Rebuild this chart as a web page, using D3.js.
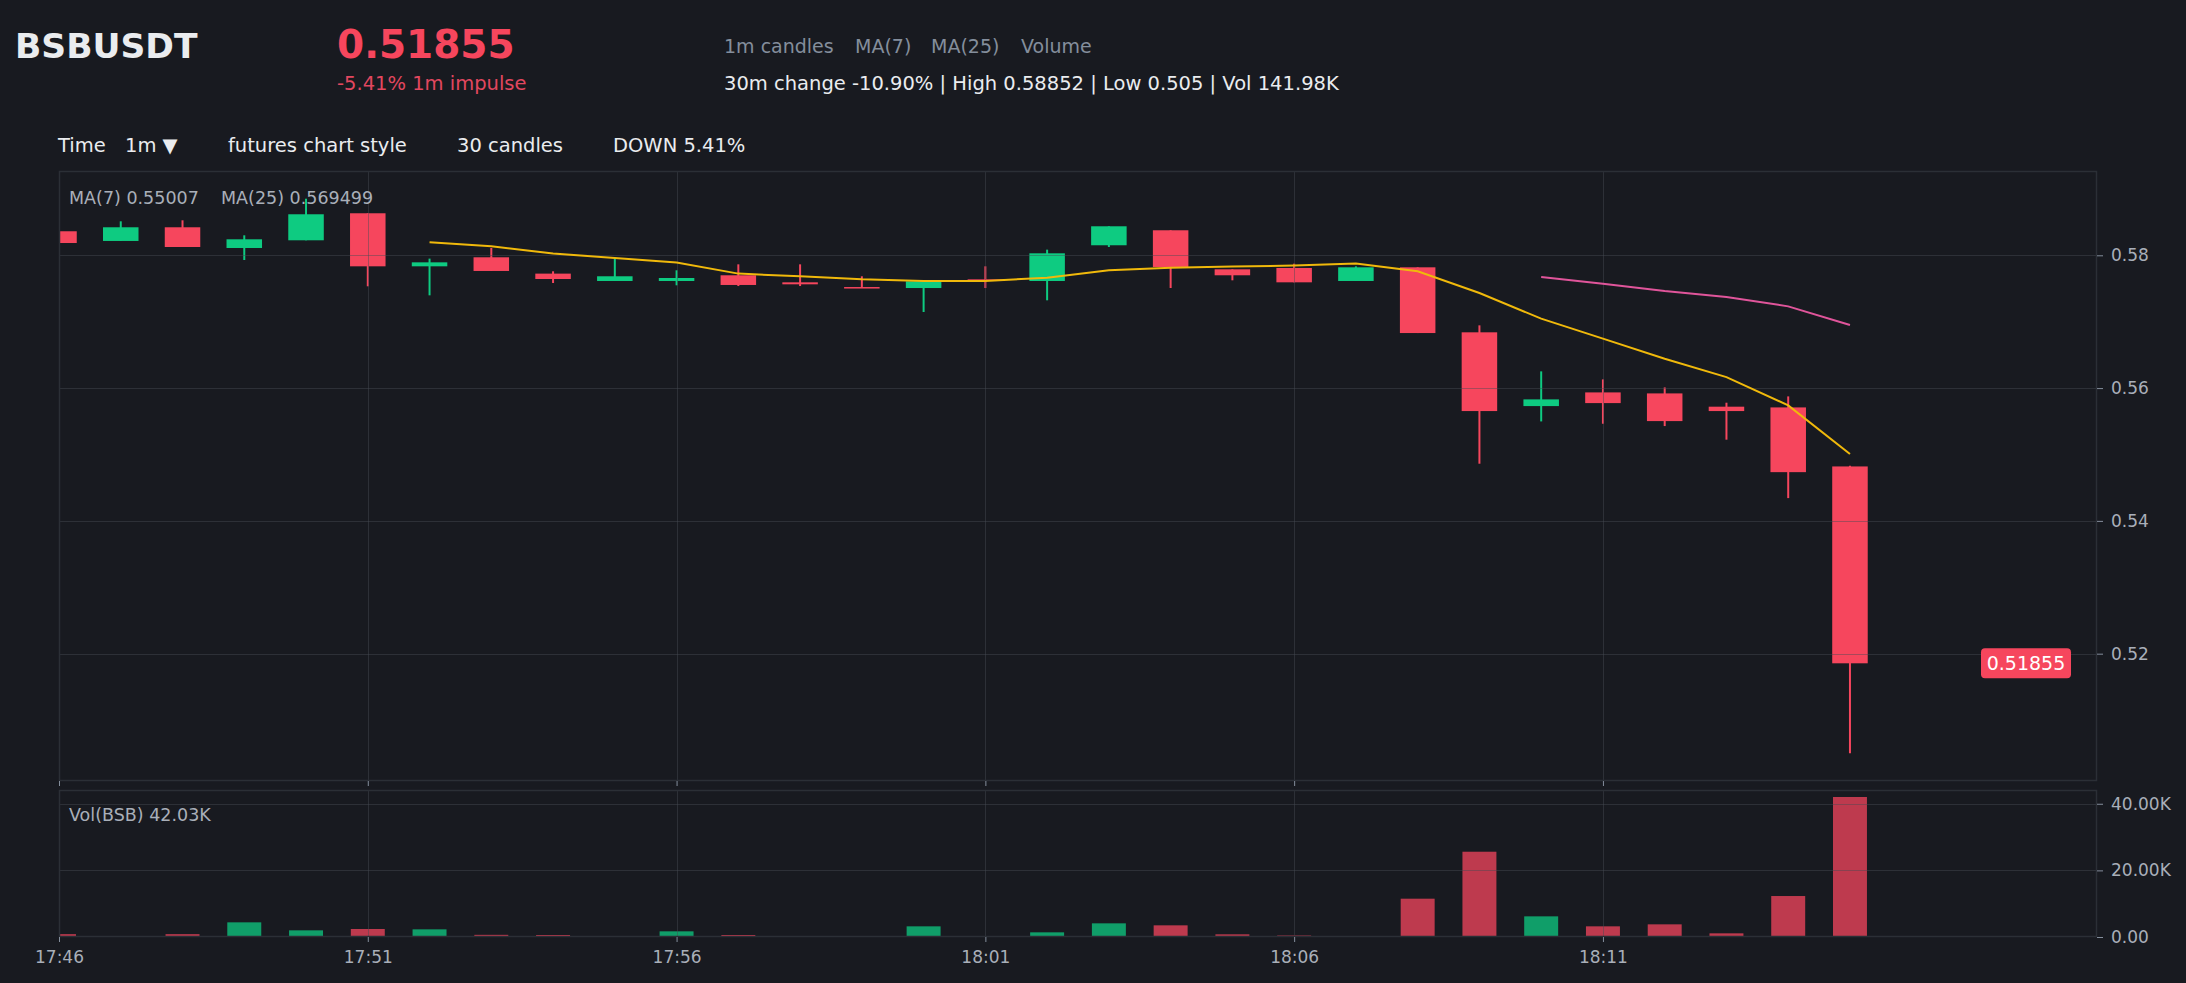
<!DOCTYPE html>
<html>
<head>
<meta charset="utf-8">
<script src="https://cdn.jsdelivr.net/npm/d3@7"></script>
<style>
  html, body { margin: 0; padding: 0; background: #181a20; overflow: hidden; }
  svg { display: block; font-family: "DejaVu Sans", sans-serif; }
</style>
</head>
<body>
<svg id="chart" width="2186" height="983"></svg>
<script>
// ---------------- data ----------------
const times = ["17:46","17:47","17:48","17:49","17:50","17:51","17:52","17:53","17:54","17:55",
               "17:56","17:57","17:58","17:59","18:00","18:01","18:02","18:03","18:04","18:05",
               "18:06","18:07","18:08","18:09","18:10","18:11","18:12","18:13","18:14","18:15"];
const openVals  = [0.58362,0.58216,0.58422,0.58110,0.58226,0.58633,0.57834,0.57970,0.57724,0.57613,
                   0.57613,0.57699,0.57593,0.57522,0.57507,0.57638,0.57613,0.58151,0.58377,0.57789,
                   0.57809,0.57613,0.57819,0.56840,0.55729,0.55935,0.55920,0.55720,0.55709,0.54820];
const highVals  = [0.58375,0.58512,0.58527,0.58301,0.58852,0.58633,0.57950,0.58110,0.57759,0.57950,
                   0.57774,0.57864,0.57864,0.57684,0.57608,0.57834,0.58085,0.58437,0.58377,0.57789,
                   0.57874,0.57834,0.57819,0.56945,0.56252,0.56131,0.56010,0.55780,0.55875,0.54830];
const lowVals   = [0.58185,0.58216,0.58125,0.57929,0.58226,0.57533,0.57397,0.57764,0.57583,0.57613,
                   0.57548,0.57537,0.57537,0.57507,0.57146,0.57507,0.57322,0.58125,0.57507,0.57623,
                   0.57593,0.57613,0.56829,0.54861,0.55498,0.55463,0.55428,0.55223,0.54343,0.50500];
const closeVals = [0.58185,0.58422,0.58125,0.58241,0.58618,0.57834,0.57894,0.57764,0.57643,0.57684,
                   0.57658,0.57553,0.57563,0.57507,0.57608,0.57623,0.58030,0.58437,0.57824,0.57699,
                   0.57593,0.57819,0.56829,0.55654,0.55830,0.55774,0.55503,0.55654,0.54734,0.51855];
const volumeVals = [850,200,850,4400,2000,2400,2300,650,600,100,
                    1700,600,150,150,3200,200,1400,4100,3500,800,
                    450,100,11500,25600,6200,3200,3800,1100,12300,42030];
// moving averages (null where not yet defined)
const ma7Vals = [null,null,null,null,null,null,
                 0.58196,0.58136,0.58026,0.57960,0.57890,0.57724,0.57684,0.57638,0.57613,0.57613,
                 0.57663,0.57774,0.57814,0.57830,0.57845,0.57875,0.57759,0.57432,0.57046,0.56745,
                 0.56443,0.56166,0.55740,0.55007];
const ma25Vals = [null,null,null,null,null,null,null,null,null,null,
                  null,null,null,null,null,null,null,null,null,null,
                  null,null,null,null,0.57673,0.57573,0.57462,0.57372,0.57231,0.569499];
const priceTicks = [0.52, 0.54, 0.56, 0.58];
const priceTickLabels = ["0.52", "0.54", "0.56", "0.58"];
const volTicks = [0, 20000, 40000];
const volTickLabels = ["0.00", "20.00K", "40.00K"];
const timeTicks = ["17:46","17:51","17:56","18:01","18:06","18:11"];
const timeDomain = ["17:46","18:19"];
const priceDomain = [0.500824, 0.592696];
const volMax = 44131;

// ---------------- layout ----------------
const W = 2186, H = 983;
const L = 59, R = 2097;
const pTop = 171, pBot = 781;
const vTop = 790, vBot = 937;
const GREEN = "#0ecb81", RED = "#f6465d", BG = "#181a20";
const GRID = "rgb(70,75,85)", BORDER = "#2b2f36", AXIS_TXT = "#a9afb9";

const parseT = d3.timeParse("%H:%M");
const svg = d3.select("#chart");
svg.append("rect").attr("width", W).attr("height", H).attr("fill", BG);

const x = d3.scaleTime().domain(timeDomain.map(parseT)).range([L, R]);
const y = d3.scaleLinear().domain(priceDomain).range([pBot, pTop]);
const yv = d3.scaleLinear().domain([0, volMax]).range([vBot, vTop]);
const step = x(parseT("17:47")) - x(parseT("17:46"));
const bodyW = step * 0.575;
const volW = step * 0.55;

const candles = times.map((t, i) => ({
  t: parseT(t), o: openVals[i], h: highVals[i], l: lowVals[i], c: closeVals[i], v: volumeVals[i],
  up: closeVals[i] >= openVals[i]
}));

// clip paths
const defs = svg.append("defs");
defs.append("clipPath").attr("id", "clipP").append("rect")
  .attr("x", L).attr("y", pTop).attr("width", R - L).attr("height", pBot - pTop);
defs.append("clipPath").attr("id", "clipV").append("rect")
  .attr("x", L).attr("y", vTop).attr("width", R - L).attr("height", vBot - vTop);

// ---------------- header ----------------
const hdr = svg.append("g");
hdr.append("text").attr("x", 15).attr("y", 58).attr("fill", "#eaecef")
  .attr("font-size", 34.5).attr("font-weight", "bold").text("BSBUSDT");
hdr.append("text").attr("x", 337).attr("y", 58).attr("fill", RED)
  .attr("font-size", 39).attr("font-weight", "bold").text("0.51855");
hdr.append("text").attr("x", 337).attr("y", 90).attr("fill", "#e2475f")
  .attr("font-size", 19.5).text("-5.41% 1m impulse");
[["1m candles", 724], ["MA(7)", 855], ["MA(25)", 931], ["Volume", 1021]].forEach(([s, xx]) => {
  hdr.append("text").attr("x", xx).attr("y", 53).attr("fill", "#848e9c").attr("font-size", 19).text(s);
});
hdr.append("text").attr("x", 724).attr("y", 90).attr("fill", "#eaecef").attr("font-size", 19.5)
  .text("30m change -10.90% | High 0.58852 | Low 0.505 | Vol 141.98K");
[["Time", 58], ["1m \u25BC", 125], ["futures chart style", 228], ["30 candles", 457], ["DOWN 5.41%", 613]]
  .forEach(([s, xx]) => {
    hdr.append("text").attr("x", xx).attr("y", 152).attr("fill", "#eaecef").attr("font-size", 19.5).text(s);
  });

// ---------------- price panel ----------------
const pg = svg.append("g").attr("clip-path", "url(#clipP)");
const cg = pg.selectAll("g.candle").data(candles).enter().append("g");
cg.append("line")
  .attr("x1", d => x(d.t)).attr("x2", d => x(d.t))
  .attr("y1", d => y(d.h)).attr("y2", d => y(d.l))
  .attr("stroke", d => d.up ? GREEN : RED).attr("stroke-width", 2);
cg.append("rect")
  .attr("x", d => x(d.t) - bodyW / 2).attr("width", bodyW)
  .attr("y", d => y(Math.max(d.o, d.c)))
  .attr("height", d => Math.max(1.5, Math.abs(y(d.o) - y(d.c))))
  .attr("fill", d => d.up ? GREEN : RED);

// grid over marks
const timeTickDates = timeTicks.map(parseT);
pg.append("g").selectAll("line").data(priceTicks).enter().append("line")
  .attr("x1", L).attr("x2", R).attr("y1", d => Math.round(y(d)) + 0.5).attr("y2", d => Math.round(y(d)) + 0.5)
  .attr("stroke", GRID).attr("stroke-opacity", 0.45);
pg.append("g").selectAll("line").data(timeTickDates).enter().append("line")
  .attr("y1", pTop).attr("y2", pBot).attr("x1", d => Math.round(x(d)) + 0.5).attr("x2", d => Math.round(x(d)) + 0.5)
  .attr("stroke", GRID).attr("stroke-opacity", 0.45);

// moving averages
const maLine = d3.line().defined(d => d.v != null).x(d => x(d.t)).y(d => y(d.v));
pg.append("path").datum(times.map((t, i) => ({ t: parseT(t), v: ma7Vals[i] })))
  .attr("d", maLine).attr("fill", "none").attr("stroke", "#f0b90b").attr("stroke-width", 2);
pg.append("path").datum(times.map((t, i) => ({ t: parseT(t), v: ma25Vals[i] })))
  .attr("d", maLine).attr("fill", "none").attr("stroke", "#e0559b").attr("stroke-width", 2);

// border
svg.append("rect").attr("x", L + 0.5).attr("y", pTop + 0.5).attr("width", R - L - 1).attr("height", pBot - pTop - 1)
  .attr("fill", "none").attr("stroke", BORDER).attr("stroke-width", 1.5);

// MA labels
svg.append("text").attr("x", 69).attr("y", 204).attr("fill", AXIS_TXT).attr("font-size", 17.5)
  .text("MA(7) " + ma7Vals[ma7Vals.length - 1]);
svg.append("text").attr("x", 221).attr("y", 204).attr("fill", AXIS_TXT).attr("font-size", 17.5)
  .text("MA(25) " + ma25Vals[ma25Vals.length - 1]);

// last price tag
const last = candles[candles.length - 1];
const tag = svg.append("g").attr("transform", `translate(${2026},${y(last.c)})`);
tag.append("rect").attr("x", -45).attr("y", -15).attr("width", 90).attr("height", 30).attr("rx", 4)
  .attr("fill", RED);
tag.append("text").attr("text-anchor", "middle").attr("dy", "0.36em").attr("fill", "#ffffff")
  .attr("font-size", 19).text(d3.format(".5f")(last.c));

// price axis
const yAxis = d3.axisRight(y).tickValues(priceTicks).tickSize(6).tickPadding(8)
  .tickFormat((d, i) => priceTickLabels[i]);
const ya = svg.append("g").attr("transform", `translate(${R},0)`).call(yAxis);
ya.select(".domain").remove();
ya.selectAll("line").attr("stroke", "#848e9c");
ya.selectAll("text").attr("fill", AXIS_TXT).attr("font-size", 17).attr("font-family", "DejaVu Sans");

// ticks under price panel (no labels)
const xAxisTop = d3.axisBottom(x).tickValues(timeTickDates).tickSize(5).tickFormat("");
const xt = svg.append("g").attr("transform", `translate(0,${pBot})`).call(xAxisTop);
xt.select(".domain").remove();
xt.selectAll("line").attr("stroke", "#848e9c");

// ---------------- volume panel ----------------
const vg = svg.append("g").attr("clip-path", "url(#clipV)");
vg.selectAll("rect.vol").data(candles).enter().append("rect")
  .attr("x", d => x(d.t) - volW / 2).attr("width", volW)
  .attr("y", d => yv(d.v)).attr("height", d => vBot - yv(d.v))
  .attr("fill", d => d.up ? GREEN : RED).attr("fill-opacity", 0.75);
vg.append("g").selectAll("line").data(volTicks).enter().append("line")
  .attr("x1", L).attr("x2", R).attr("y1", d => Math.round(yv(d)) + 0.5).attr("y2", d => Math.round(yv(d)) + 0.5)
  .attr("stroke", GRID).attr("stroke-opacity", 0.45);
vg.append("g").selectAll("line").data(timeTickDates).enter().append("line")
  .attr("y1", vTop).attr("y2", vBot).attr("x1", d => Math.round(x(d)) + 0.5).attr("x2", d => Math.round(x(d)) + 0.5)
  .attr("stroke", GRID).attr("stroke-opacity", 0.45);
svg.append("rect").attr("x", L + 0.5).attr("y", vTop + 0.5).attr("width", R - L - 1).attr("height", vBot - vTop - 1)
  .attr("fill", "none").attr("stroke", BORDER).attr("stroke-width", 1.5);

svg.append("text").attr("x", 69).attr("y", 821).attr("fill", AXIS_TXT).attr("font-size", 17.5)
  .text("Vol(BSB) " + d3.format(".2f")(volumeVals[volumeVals.length - 1] / 1000) + "K");

const yvAxis = d3.axisRight(yv).tickValues(volTicks).tickSize(6).tickPadding(8)
  .tickFormat((d, i) => volTickLabels[i]);
const yva = svg.append("g").attr("transform", `translate(${R},0)`).call(yvAxis);
yva.select(".domain").remove();
yva.selectAll("line").attr("stroke", "#848e9c");
yva.selectAll("text").attr("fill", AXIS_TXT).attr("font-size", 17).attr("font-family", "DejaVu Sans");

const xAxis = d3.axisBottom(x).tickValues(timeTickDates).tickSize(5).tickPadding(9)
  .tickFormat((d, i) => timeTicks[i]);
const xa = svg.append("g").attr("transform", `translate(0,${vBot})`).call(xAxis);
xa.select(".domain").remove();
xa.selectAll("line").attr("stroke", "#848e9c");
xa.selectAll("text").attr("fill", AXIS_TXT).attr("font-size", 17).attr("font-family", "DejaVu Sans");
</script>
</body>
</html>
